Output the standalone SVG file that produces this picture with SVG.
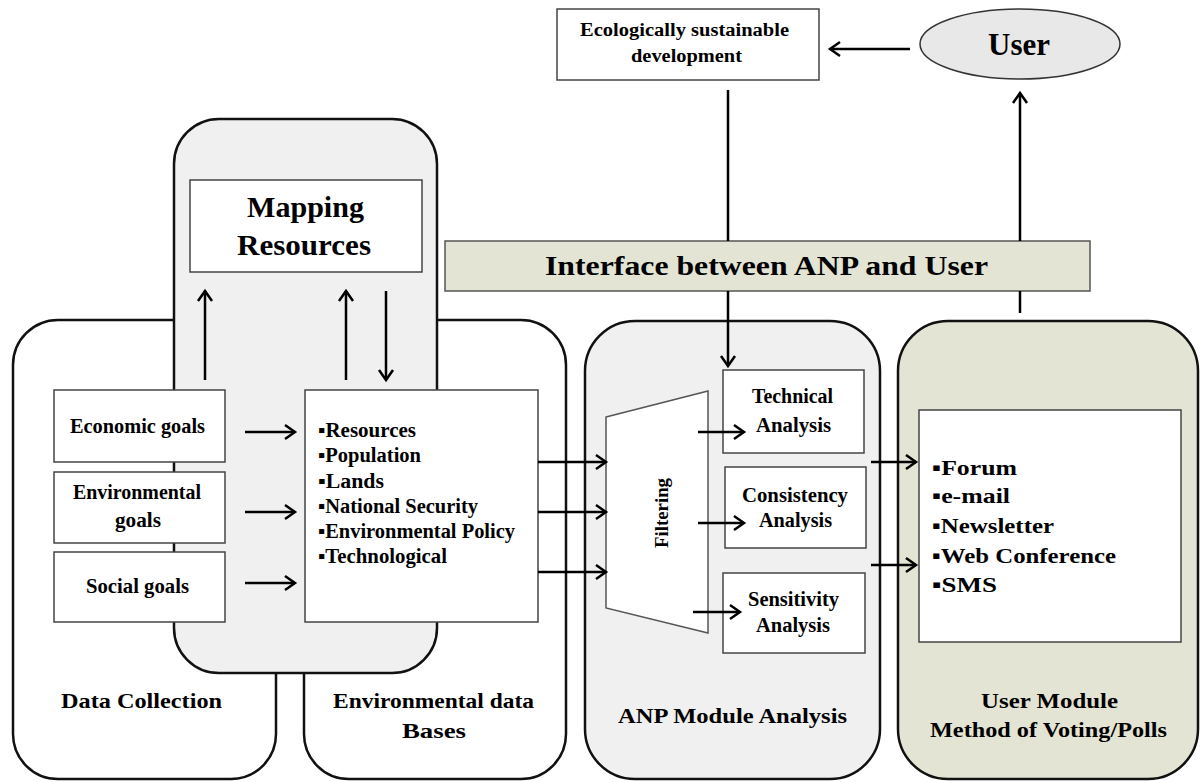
<svg xmlns="http://www.w3.org/2000/svg" width="1200" height="782" viewBox="0 0 1200 782">
<style>
.t{font-family:"Liberation Serif","Times New Roman",serif;font-weight:bold;fill:#000}
.cont{stroke:#111;stroke-width:2.5}
.box{fill:#fff;stroke:#444;stroke-width:1.5}
.con{stroke:#000;stroke-width:2.5;fill:none}
.arr{marker-end:url(#ah)}
</style>
<defs>
<marker id="ah" markerUnits="userSpaceOnUse" markerWidth="16" markerHeight="18" refX="12" refY="9" orient="auto">
<path d="M2,2 L12,9 L2,16" fill="none" stroke="#000" stroke-width="2.5"/>
</marker>
</defs>

<g id="data-collection">
<rect class="cont" x="13" y="320" width="263" height="459" rx="45" fill="#fff"/>
<text class="t" x="61" y="708" font-size="22" textLength="161" lengthAdjust="spacingAndGlyphs">Data Collection</text>
</g>
<g id="env-databases">
<rect class="cont" x="304" y="320" width="262" height="459" rx="45" fill="#fff"/>
<text class="t" x="333" y="708" font-size="22" textLength="201" lengthAdjust="spacingAndGlyphs">Environmental data</text>
<text class="t" x="402" y="738" font-size="22" textLength="64" lengthAdjust="spacingAndGlyphs">Bases</text>
</g>
<g id="mapping-container">
<rect class="cont" x="174" y="119" width="263" height="554" rx="45" fill="#f0f0f0"/>
</g>
<g id="anp-module">
<rect class="cont" x="585" y="321" width="295" height="458" rx="50" fill="#f0f0f0"/>
<text class="t" x="618" y="723" font-size="22" textLength="229" lengthAdjust="spacingAndGlyphs">ANP Module Analysis</text>
</g>
<g id="user-module">
<rect class="cont" x="898" y="321" width="300" height="458" rx="50" fill="#e3e4d3"/>
<text class="t" x="981" y="708" font-size="22" textLength="137" lengthAdjust="spacingAndGlyphs">User Module</text>
<text class="t" x="930" y="737" font-size="22" textLength="237" lengthAdjust="spacingAndGlyphs">Method of Voting/Polls</text>
</g>

<g id="mapping-resources">
<rect class="box" x="190" y="180" width="232" height="92"/>
<text class="t" x="247" y="217" font-size="30" textLength="117" lengthAdjust="spacingAndGlyphs">Mapping</text>
<text class="t" x="237" y="255" font-size="30" textLength="134" lengthAdjust="spacingAndGlyphs">Resources</text>
</g>
<g id="economic-goals">
<rect class="box" x="54" y="390" width="171" height="72"/>
<text class="t" x="70" y="433" font-size="21" textLength="135" lengthAdjust="spacingAndGlyphs">Economic goals</text>
</g>
<g id="environmental-goals">
<rect class="box" x="54" y="472" width="171" height="71"/>
<text class="t" x="73" y="499" font-size="21" textLength="128" lengthAdjust="spacingAndGlyphs">Environmental</text>
<text class="t" x="115" y="527" font-size="21" textLength="46" lengthAdjust="spacingAndGlyphs">goals</text>
</g>
<g id="social-goals">
<rect class="box" x="54" y="552" width="171" height="70"/>
<text class="t" x="86" y="593" font-size="21" textLength="103" lengthAdjust="spacingAndGlyphs">Social goals</text>
</g>
<g id="env-list">
<rect class="box" x="305" y="390" width="233" height="232"/>
<text class="t" x="318" y="437" font-size="20" textLength="98" lengthAdjust="spacingAndGlyphs">▪Resources</text>
<text class="t" x="318" y="462" font-size="20" textLength="103" lengthAdjust="spacingAndGlyphs">▪Population</text>
<text class="t" x="318" y="488" font-size="20" textLength="66" lengthAdjust="spacingAndGlyphs">▪Lands</text>
<text class="t" x="318" y="513" font-size="20" textLength="160" lengthAdjust="spacingAndGlyphs">▪National Security</text>
<text class="t" x="318" y="538" font-size="20" textLength="197" lengthAdjust="spacingAndGlyphs">▪Environmental Policy</text>
<text class="t" x="318" y="563" font-size="20" textLength="129" lengthAdjust="spacingAndGlyphs">▪Technological</text>
</g>
<g id="filtering">
<polygon points="606,417 708,391 708,633 606,608" fill="#fff" stroke="#555" stroke-width="1.5"/>
<text class="t" transform="translate(668,548) rotate(-90)" x="0" y="0" font-size="19" textLength="70" lengthAdjust="spacingAndGlyphs">Filtering</text>
</g>
<g id="technical-analysis">
<rect class="box" x="723" y="370" width="141" height="83"/>
<text class="t" x="752" y="403" font-size="20" textLength="81" lengthAdjust="spacingAndGlyphs">Technical</text>
<text class="t" x="756" y="432" font-size="20" textLength="75" lengthAdjust="spacingAndGlyphs">Analysis</text>
</g>
<g id="consistency-analysis">
<rect class="box" x="725" y="467" width="141" height="81"/>
<text class="t" x="742" y="502" font-size="20" textLength="106" lengthAdjust="spacingAndGlyphs">Consistency</text>
<text class="t" x="759" y="527" font-size="20" textLength="73" lengthAdjust="spacingAndGlyphs">Analysis</text>
</g>
<g id="sensitivity-analysis">
<rect class="box" x="723" y="573" width="142" height="80"/>
<text class="t" x="748" y="606" font-size="20" textLength="91" lengthAdjust="spacingAndGlyphs">Sensitivity</text>
<text class="t" x="756" y="632" font-size="20" textLength="74" lengthAdjust="spacingAndGlyphs">Analysis</text>
</g>
<g id="user-list">
<rect class="box" x="919" y="410" width="262" height="232"/>
<text class="t" x="932" y="475" font-size="22" textLength="85" lengthAdjust="spacingAndGlyphs">▪Forum</text>
<text class="t" x="932" y="503" font-size="22" textLength="78" lengthAdjust="spacingAndGlyphs">▪e-mail</text>
<text class="t" x="932" y="533" font-size="22" textLength="122" lengthAdjust="spacingAndGlyphs">▪Newsletter</text>
<text class="t" x="932" y="563" font-size="22" textLength="184" lengthAdjust="spacingAndGlyphs">▪Web Conference</text>
<text class="t" x="932" y="592" font-size="22" textLength="65" lengthAdjust="spacingAndGlyphs">▪SMS</text>
</g>
<g id="interface">
<rect x="445" y="241" width="645" height="50" fill="#e3e4d3" stroke="#555" stroke-width="1.5"/>
<text class="t" x="545" y="275" font-size="28" textLength="443" lengthAdjust="spacingAndGlyphs">Interface between ANP and User</text>
</g>
<g id="eco-dev">
<rect class="box" x="557" y="9" width="262" height="71"/>
<text class="t" x="580" y="36" font-size="18" textLength="209" lengthAdjust="spacingAndGlyphs">Ecologically sustainable</text>
<text class="t" x="631" y="62" font-size="18" textLength="111" lengthAdjust="spacingAndGlyphs">development</text>
</g>
<g id="user">
<ellipse cx="1020" cy="44" rx="100" ry="35" fill="#e8e8e8" stroke="#333" stroke-width="1.5"/>
<text class="t" x="988" y="55" font-size="32" textLength="62" lengthAdjust="spacingAndGlyphs">User</text>
</g>

<g id="connectors">
<line class="con arr" x1="910" y1="49" x2="830" y2="49"/>
<line class="con" x1="728" y1="90" x2="728" y2="241"/>
<line class="con arr" x1="728" y1="291" x2="728" y2="366"/>
<line class="con" x1="1020" y1="313" x2="1020" y2="291"/>
<line class="con arr" x1="1020" y1="241" x2="1020" y2="93"/>
<line class="con arr" x1="205" y1="380" x2="205" y2="291"/>
<line class="con arr" x1="346" y1="380" x2="346" y2="291"/>
<line class="con arr" x1="386" y1="291" x2="386" y2="380"/>
<line class="con arr" x1="245" y1="432" x2="295" y2="432"/>
<line class="con arr" x1="245" y1="512" x2="295" y2="512"/>
<line class="con arr" x1="245" y1="583" x2="295" y2="583"/>
<line class="con arr" x1="538" y1="462" x2="606" y2="462"/>
<line class="con arr" x1="538" y1="512" x2="606" y2="512"/>
<line class="con arr" x1="538" y1="572" x2="606" y2="572"/>
<line class="con arr" x1="698" y1="432" x2="744" y2="432"/>
<line class="con arr" x1="698" y1="523" x2="744" y2="523"/>
<line class="con arr" x1="693" y1="612" x2="740" y2="612"/>
<line class="con arr" x1="871" y1="462" x2="916" y2="462"/>
<line class="con arr" x1="871" y1="565" x2="916" y2="565"/>
</g>
</svg>
